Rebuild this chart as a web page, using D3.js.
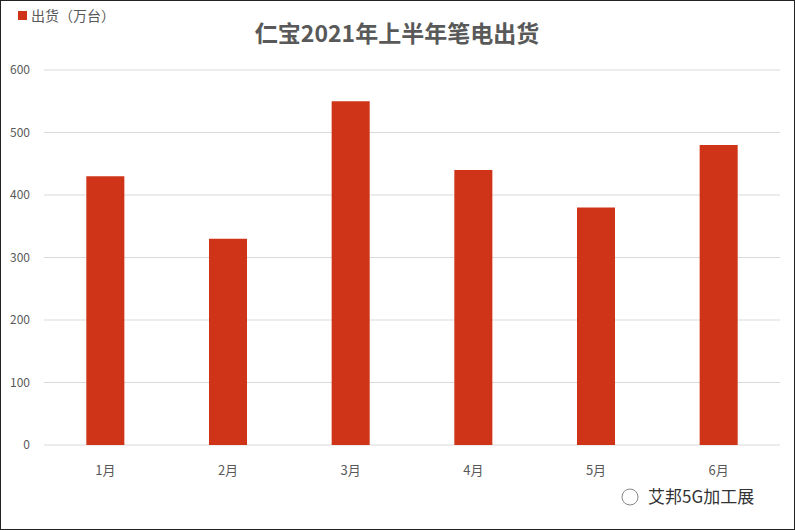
<!DOCTYPE html><html><head><meta charset="utf-8"><script src="https://cdn.jsdelivr.net/npm/d3@7"></script>
<style>body{margin:0;background:#fff}svg{display:block;font-family:"Noto Sans CJK SC","Noto Sans",sans-serif}</style></head><body>
<script>
const categories=["1月","2月","3月","4月","5月","6月"];
const values=[430,330,550,440,380,480];
const yTicks=[0,100,200,300,400,500,600];
const W=795,H=530;
const svg=d3.select("body").append("svg").attr("width",W).attr("height",H);
svg.append("rect").attr("x",0.5).attr("y",0.5).attr("width",W-1).attr("height",H-1).attr("fill","#fff").attr("stroke","#222");
const x=d3.scaleBand().domain(categories).range([44,780]).paddingInner(0.69).paddingOuter(0.345);
const y=d3.scaleLinear().domain([0,600]).range([445,70]);
const g=svg.append("g");
g.selectAll(".gl").data(yTicks).join("line").attr("x1",44).attr("x2",780).attr("y1",d=>y(d)).attr("y2",d=>y(d)).attr("stroke","#d9d9d9");
g.selectAll(".yl").data(yTicks).join("text").attr("x",30).attr("y",d=>y(d)+4).attr("text-anchor","end").attr("font-size",12).attr("fill","#595959").text(d=>d);
g.selectAll(".bar").data(values).join("rect").attr("x",(d,i)=>x(categories[i])).attr("width",x.bandwidth()).attr("y",d=>y(d)).attr("height",d=>y(0)-y(d)).attr("fill","#d03418");
g.selectAll(".xl").data(categories).join("text").attr("x",d=>x(d)+x.bandwidth()/2).attr("y",475).attr("text-anchor","middle").attr("font-size",13).attr("fill","#595959").text(d=>d);
svg.append("text").attr("x",397).attr("y",42).attr("text-anchor","middle").attr("font-size",23).attr("font-weight","bold").attr("fill","#595959").text("仁宝2021年上半年笔电出货");
svg.append("rect").attr("x",18).attr("y",11).attr("width",9).attr("height",9).attr("fill","#d03418");
svg.append("text").attr("x",31).attr("y",21).attr("font-size",14).attr("fill","#595959").text("出货（万台）");
svg.append("text").attr("x",648).attr("y",503).attr("font-size",17).attr("fill","#333").text("艾邦5G加工展");
svg.append("circle").attr("cx",630).attr("cy",497).attr("r",8).attr("fill","none").attr("stroke","#888");
</script></body></html>
